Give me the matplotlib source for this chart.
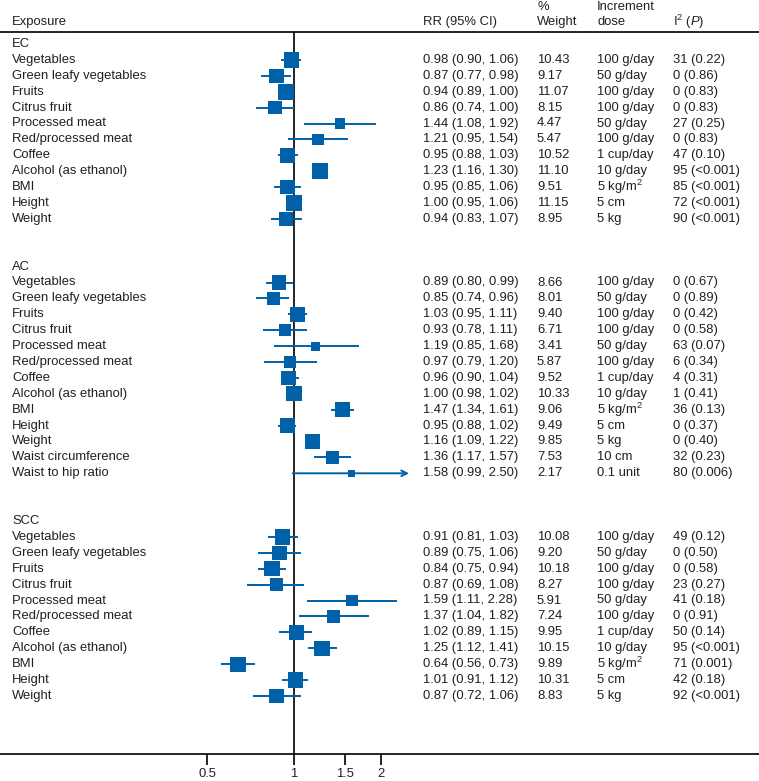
import numpy as np
import matplotlib
matplotlib.use("Agg")
import matplotlib.pyplot as plt

plt.rcParams['font.family'] = ['Liberation Sans', 'DejaVu Sans']
plt.rcParams['mathtext.fontset'] = 'custom'
plt.rcParams['mathtext.rm'] = 'Liberation Sans'
plt.rcParams['mathtext.it'] = 'Liberation Sans:italic'

# ---- data ----
groups = ["EC", "AC", "SCC"]

ec_names = ["Vegetables", "Green leafy vegetables", "Fruits", "Citrus fruit", "Processed meat",
            "Red/processed meat", "Coffee", "Alcohol (as ethanol)", "BMI", "Height", "Weight"]
ec_rr = [0.98, 0.87, 0.94, 0.86, 1.44, 1.21, 0.95, 1.23, 0.95, 1.00, 0.94]
ec_lo = [0.90, 0.77, 0.89, 0.74, 1.08, 0.95, 0.88, 1.16, 0.85, 0.95, 0.83]
ec_hi = [1.06, 0.98, 1.00, 1.00, 1.92, 1.54, 1.03, 1.30, 1.06, 1.06, 1.07]
ec_wt = [10.43, 9.17, 11.07, 8.15, 4.47, 5.47, 10.52, 11.10, 9.51, 11.15, 8.95]
ec_dose = ["100 g/day", "50 g/day", "100 g/day", "100 g/day", "50 g/day", "100 g/day",
           "1 cup/day", "10 g/day", "5 kg/m$^2$", "5 cm", "5 kg"]
ec_i2 = ["31 (0.22)", "0 (0.86)", "0 (0.83)", "0 (0.83)", "27 (0.25)", "0 (0.83)",
         "47 (0.10)", "95 (<0.001)", "85 (<0.001)", "72 (<0.001)", "90 (<0.001)"]

ac_names = ["Vegetables", "Green leafy vegetables", "Fruits", "Citrus fruit", "Processed meat",
            "Red/processed meat", "Coffee", "Alcohol (as ethanol)", "BMI", "Height", "Weight",
            "Waist circumference", "Waist to hip ratio"]
ac_rr = [0.89, 0.85, 1.03, 0.93, 1.19, 0.97, 0.96, 1.00, 1.47, 0.95, 1.16, 1.36, 1.58]
ac_lo = [0.80, 0.74, 0.95, 0.78, 0.85, 0.79, 0.90, 0.98, 1.34, 0.88, 1.09, 1.17, 0.99]
ac_hi = [0.99, 0.96, 1.11, 1.11, 1.68, 1.20, 1.04, 1.02, 1.61, 1.02, 1.22, 1.57, 2.50]
ac_wt = [8.66, 8.01, 9.40, 6.71, 3.41, 5.87, 9.52, 10.33, 9.06, 9.49, 9.85, 7.53, 2.17]
ac_dose = ["100 g/day", "50 g/day", "100 g/day", "100 g/day", "50 g/day", "100 g/day",
           "1 cup/day", "10 g/day", "5 kg/m$^2$", "5 cm", "5 kg", "10 cm", "0.1 unit"]
ac_i2 = ["0 (0.67)", "0 (0.89)", "0 (0.42)", "0 (0.58)", "63 (0.07)", "6 (0.34)",
         "4 (0.31)", "1 (0.41)", "36 (0.13)", "0 (0.37)", "0 (0.40)", "32 (0.23)", "80 (0.006)"]

scc_names = ["Vegetables", "Green leafy vegetables", "Fruits", "Citrus fruit", "Processed meat",
             "Red/processed meat", "Coffee", "Alcohol (as ethanol)", "BMI", "Height", "Weight"]
scc_rr = [0.91, 0.89, 0.84, 0.87, 1.59, 1.37, 1.02, 1.25, 0.64, 1.01, 0.87]
scc_lo = [0.81, 0.75, 0.75, 0.69, 1.11, 1.04, 0.89, 1.12, 0.56, 0.91, 0.72]
scc_hi = [1.03, 1.06, 0.94, 1.08, 2.28, 1.82, 1.15, 1.41, 0.73, 1.12, 1.06]
scc_wt = [10.08, 9.20, 10.18, 8.27, 5.91, 7.24, 9.95, 10.15, 9.89, 10.31, 8.83]
scc_dose = ["100 g/day", "50 g/day", "100 g/day", "100 g/day", "50 g/day", "100 g/day",
            "1 cup/day", "10 g/day", "5 kg/m$^2$", "5 cm", "5 kg"]
scc_i2 = ["49 (0.12)", "0 (0.50)", "0 (0.58)", "23 (0.27)", "41 (0.18)", "0 (0.91)",
          "50 (0.14)", "95 (<0.001)", "71 (0.001)", "42 (0.18)", "92 (<0.001)"]

xticks = [0.5, 1, 1.5, 2]
arrow_cap = 2.4  # upper CI beyond this is drawn as an arrow

# ---- layout ----
W, H = 759, 781
blue = '#0061a8'
txt = '#231f20'
fs = 9.4
px_per_ln = 125.5
x_one = 294
row0_px = 44
row_px = 15.9

def px2row(p):
    return (p - row0_px) / row_px

fig = plt.figure(figsize=(W / 100, H / 100), dpi=100)
ax = fig.add_axes([0, 0, 1, 1])
ax.set_xscale('log')
ax.set_xlim(np.exp(-x_one / px_per_ln), np.exp((W - x_one) / px_per_ln))
ax.set_ylim(px2row(H), px2row(0))
ax.axis('off')
tr = ax.get_yaxis_transform()

col_name, col_rr, col_wt, col_dose, col_i2 = 12 / W, 423 / W, 537 / W, 597 / W, 673 / W

def put(x, y, s, **kw):
    ax.text(x, y, s, transform=tr, fontsize=fs, va='center', color=txt, **kw)

# header
hy1, hy2 = px2row(7), px2row(22)
put(col_name, hy2, "Exposure")
put(col_rr, hy2, "RR (95% CI)")
put(col_wt, hy1, "%")
put(col_wt, hy2, "Weight")
put(col_dose, hy1, "Increment")
put(col_dose, hy2, "dose")
put(col_i2, hy2, "I$^2$ ($\\it{P}$)")

top_line = px2row(32)
axis_line = px2row(754)
ax.axhline(top_line, color='black', lw=1.2)
ax.axhline(axis_line, color='black', lw=1.2)
ax.vlines(1, top_line, axis_line, color='black', lw=1.2)

# x ticks
ax.vlines(xticks, axis_line, px2row(765), color='black', lw=1.2)
for t in xticks:
    ax.text(t, px2row(774), f"{t:g}", fontsize=fs, ha='center', va='center', color=txt)

data = [
    (ec_names, ec_rr, ec_lo, ec_hi, ec_wt, ec_dose, ec_i2),
    (ac_names, ac_rr, ac_lo, ac_hi, ac_wt, ac_dose, ac_i2),
    (scc_names, scc_rr, scc_lo, scc_hi, scc_wt, scc_dose, scc_i2),
]

row = 0
for g, (names, rr, lo, hi, wt, dose, i2) in zip(groups, data):
    put(col_name, row, g)
    rows = row + 1 + np.arange(len(names))
    for r, n, m, l, h, w, d, i in zip(rows, names, rr, lo, hi, wt, dose, i2):
        put(col_name, r, n)
        put(col_rr, r, f"{m:.2f} ({l:.2f}, {h:.2f})")
        put(col_wt, r, f"{w:.2f}")
        put(col_dose, r, d)
        put(col_i2, r, i)
        if h > arrow_cap:
            ax.annotate("", xy=(h, r), xytext=(l, r),
                        arrowprops=dict(arrowstyle='->', color=blue, lw=1.4, shrinkA=0, shrinkB=0,
                                        mutation_scale=10))
        else:
            ax.hlines(r, l, h, color=blue, lw=1.4)
    ax.scatter(rr, rows, s=np.array(wt) * 11.9, marker='s', color=blue, linewidths=0, zorder=3)
    row = rows[-1] + 3

fig.savefig("out.png", dpi=100)
